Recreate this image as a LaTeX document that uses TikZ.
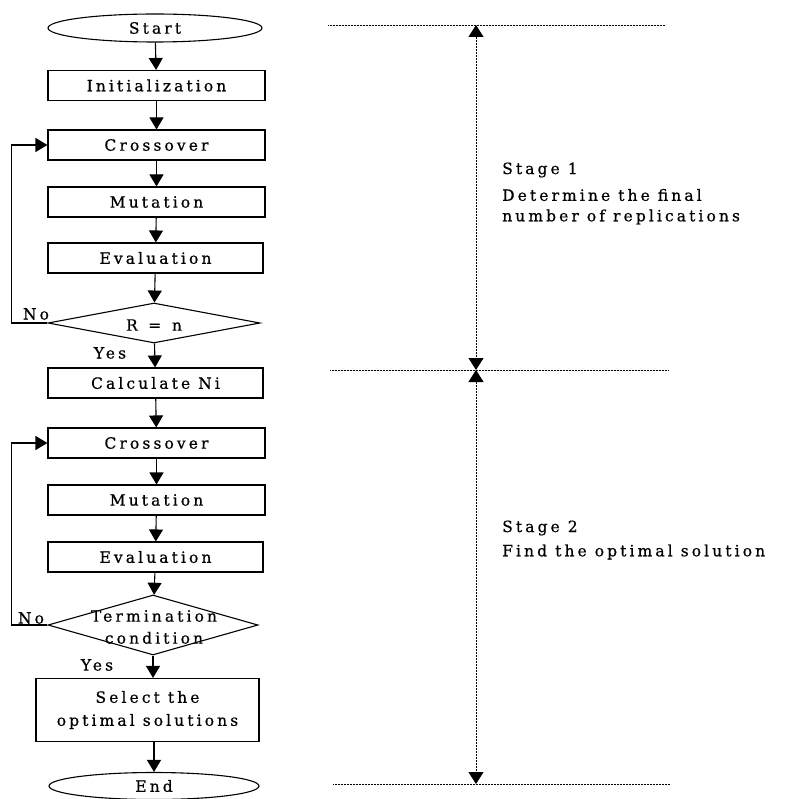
\documentclass[tikz,border=0pt]{standalone}
\usepackage{fontspec}
\setmainfont{DejaVu Serif}[LetterSpace=20,FakeBold=0.6]
\usetikzlibrary{shapes.geometric,arrows.meta}

\begin{document}
\begin{tikzpicture}[x=1pt,y=-1pt,
  every node/.style={font=\fontsize{15.5}{18}\selectfont},
  flow/.style={draw,line width=1.1pt,inner sep=0pt},
  procbox/.style={flow,rectangle,minimum height=30pt},
  terminal/.style={flow,ellipse,minimum width=214pt,minimum height=28pt},
  decision/.style={flow,diamond,minimum width=212pt},
  arr/.style={line width=1.1pt,-{Triangle[width=14pt,length=12pt]}},
  stageline/.style={line width=0.9pt,dash pattern=on 1pt off 0.5pt},
  span/.style={stageline,{Triangle[width=15pt,length=12pt]}-{Triangle[width=15pt,length=12pt]}},
  caption/.style={anchor=west,inner sep=0pt}]

\useasboundingbox (0,0) rectangle (789,799);

% ---------- flowchart ----------
\node[terminal] (start) at (155,28) {Start};
\node[procbox,minimum width=217pt] (init) at (156.5,85.5) {Initialization};
\node[procbox,minimum width=217pt] (cross1) at (156.5,145) {Crossover};
\node[procbox,minimum width=217pt] (mut1) at (156.5,202) {Mutation};
\node[procbox,minimum width=215pt] (eval1) at (155.5,258) {Evaluation};
\node[decision,minimum height=40pt] (dec1) at (154,323) {};
\node (dec1txt) at (154,325) {R\, =\, n};
\node[procbox,minimum width=215pt] (calc) at (155.5,383) {Calculate Ni};
\node[procbox,minimum width=217pt] (cross2) at (156.5,443) {Crossover};
\node[procbox,minimum width=217pt] (mut2) at (156.5,500) {Mutation};
\node[procbox,minimum width=215pt] (eval2) at (155.5,557) {Evaluation};
\node[decision,minimum width=210pt,minimum height=60pt] (dec2) at (153,625) {};
\node[align=center,inner sep=0pt] (dec2txt) at (154,627)
  {Termination\\[4pt]condition};
\node[procbox,minimum width=223pt,minimum height=63pt,align=center] (sel) at (147.5,710)
  {Select the\\[5pt]optimal solutions};
\node[terminal,minimum width=210pt,minimum height=27pt] (end) at (154,786) {End};

\draw[arr] (start) -- (init);
\draw[arr] (init) -- (cross1);
\draw[arr] (cross1) -- (mut1);
\draw[arr] (mut1) -- (eval1);
\draw[arr] (eval1) -- (dec1);
\draw[arr] (dec1) -- (calc);
\draw[arr] (calc) -- (cross2);
\draw[arr] (cross2) -- (mut2);
\draw[arr] (mut2) -- (eval2);
\draw[arr] (eval2) -- (dec2);
\draw[arr] (dec2.south) -- (dec2.south |- sel.north);
\draw[arr] (sel.south -| end.north) -- (end);

% feedback loops
\draw[arr] (dec1.west) -- ++(-36,0) |- (cross1.west);
\draw[arr] (dec2.west) -- ++(-36,0) |- (cross2.west);

\node (no1) at (36,314) {No};
\node (yes1) at (110,353) {Yes};
\node (no2) at (31,618) {No};
\node (yes2) at (97,665) {Yes};

% ---------- stage markers ----------
\coordinate (t1) at (328,25);
\coordinate (t2) at (665,25);
\coordinate (m1) at (330,370);
\coordinate (m2) at (668,370);
\coordinate (b1) at (333,784);
\coordinate (b2) at (670,784);
\draw[stageline] (t1) -- (t2);
\draw[stageline] (m1) -- (m2);
\draw[stageline] (b1) -- (b2);

\coordinate (vtop) at (476,25);
\coordinate (vmid) at (476,370);
\coordinate (vbot) at (476,784);
\draw[span] (vtop) -- (vmid);
\draw[span] (vmid) -- (vbot);

\node[caption] (s1) at (502,170) {Stage 1};
\node[caption] (s1a) at (502,195) {Determine the final};
\node[caption] (s1b) at (502,217) {number of replications};
\node[caption] (s2) at (502,528) {Stage 2};
\node[caption] (s2a) at (502,552) {Find the optimal solution};
\end{tikzpicture}
\end{document}
